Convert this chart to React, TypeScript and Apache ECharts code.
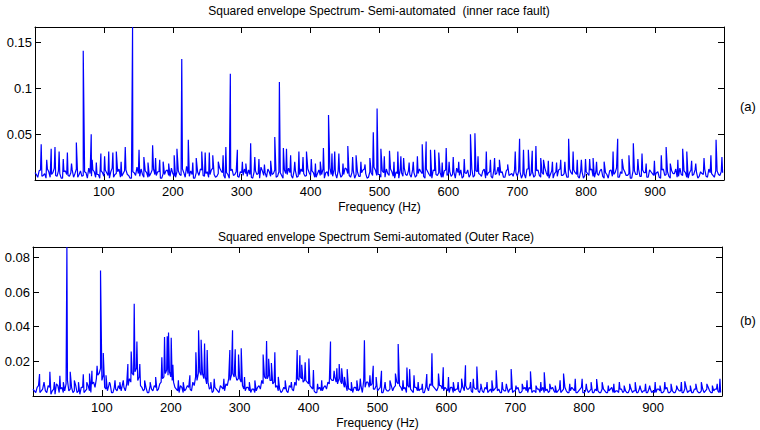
import React, { useEffect, useRef } from "react";
import * as echarts from "echarts";

// Frequency grid step (Hz) of the noise-floor arrays below;
// the "even" arrays sit at f = 0,4,8,...  and the "odd" arrays at f = 2,6,10,...
const BASE_STEP = 4;
const ODD_OFFSET = 2;

// (a) inner race: noise floor, thousandths, f = 0,4,...,996
const innerFloorEven = [
  8, 3, 11, 5, 2, 9, 6, 13, 4, 7, 2, 10, 5, 8, 3, 12, 6, 4, 9, 2, 7, 11, 3, 6, 10,
  4, 8, 2, 13, 6, 9, 3, 7, 11, 5, 2, 8, 14, 4, 6, 10, 3, 7, 12, 5, 9, 2, 6, 11, 4,
  7, 3, 10, 5, 8, 15, 4, 6, 2, 9, 12, 5, 7, 3, 11, 6, 4, 13, 8, 2, 6, 10, 5, 9, 3,
  8, 12, 4, 6, 2, 10, 7, 14, 5, 3, 9, 6, 11, 4, 8, 2, 7, 13, 5, 10, 3, 6, 9, 4, 12,
  5, 8, 3, 11, 6, 2, 9, 13, 4, 7, 10, 3, 6, 12, 5, 8, 2, 9, 4, 11, 7, 3, 8, 14, 5,
  6, 10, 3, 7, 12, 4, 9, 2, 8, 13, 5, 6, 11, 3, 7, 9, 4, 12, 6, 2, 10, 5, 8, 3, 11,
  7, 4, 9, 13, 5, 2, 8, 11, 6, 3, 10, 7, 4, 12, 5, 9, 2, 6, 14, 8, 3, 10, 5, 7, 11,
  4, 9, 6, 2, 12, 7, 3, 10, 5, 8, 13, 4, 6, 2, 9, 11, 5, 7, 3, 12, 6, 8, 4, 10, 2,
  9, 5, 12, 3, 7, 10, 4, 8, 2, 11, 6, 13, 3, 7, 9, 5, 2, 10, 6, 12, 4, 8, 3, 11, 7,
  5, 9, 2, 12, 6, 4, 10, 7, 3, 13, 5, 8, 2, 11, 6, 9, 4, 7, 12, 3, 8, 5, 10, 6, 9,
];
// (a) inner race: noise floor, thousandths, f = 2,6,...,998
const innerFloorOdd = [
  6, 10, 4, 7, 12, 3, 8, 5, 10, 2, 9, 6, 4, 11, 7, 3, 10, 5, 8, 13, 4, 9, 6, 2, 8,
  11, 5, 9, 3, 7, 12, 4, 10, 6, 2, 9, 5, 7, 12, 3, 8, 4, 11, 6, 9, 2, 7, 10, 5, 13,
  4, 9, 6, 12, 3, 7, 10, 2, 8, 5, 11, 4, 9, 6, 13, 3, 7, 10, 5, 8, 2, 12, 6, 4, 9,
  5, 7, 11, 3, 9, 6, 2, 10, 8, 12, 4, 7, 3, 9, 5, 11, 6, 8, 2, 10, 4, 12, 7, 5, 8,
  10, 3, 7, 5, 12, 8, 4, 6, 11, 2, 9, 5, 13, 7, 3, 10, 6, 4, 8, 12, 2, 9, 5, 11, 6,
  3, 8, 12, 5, 9, 2, 7, 11, 4, 6, 10, 3, 8, 5, 12, 7, 2, 9, 4, 11, 6, 8, 3, 10, 5,
  9, 6, 2, 8, 11, 4, 7, 3, 12, 5, 9, 6, 10, 2, 8, 4, 11, 7, 5, 9, 3, 12, 6, 4, 8,
  10, 2, 7, 12, 4, 9, 5, 11, 3, 6, 8, 2, 10, 7, 4, 12, 5, 9, 3, 8, 11, 6, 2, 9, 5,
  7, 11, 4, 9, 5, 12, 2, 6, 10, 4, 8, 3, 9, 12, 5, 7, 2, 10, 6, 4, 11, 8, 3, 9, 5,
  8, 3, 11, 5, 9, 2, 7, 12, 4, 6, 10, 3, 8, 5, 11, 2, 9, 6, 4, 12, 7, 3, 10, 5, 8,
];

// (a) inner race: spectral lines [Hz, thousandths]
const innerPeaks: [number, number][] = [
  [9, 39], [17, 22], [23.5, 34], [29, 36], [35, 31], [41, 23], [47, 30], [53, 18], [60, 41],
  [70, 141], [81.6, 50], [83, 22], [89, 19], [95.6, 29], [101, 26], [107, 31], [113, 30],
  [118, 31], [125, 20], [131, 36], [141.6, 167], [151, 33], [158, 25], [164, 19], [170.7, 38],
  [175, 24], [181, 22], [186, 20], [194, 18], [202, 27], [206, 34], [213, 132], [222.5, 44],
  [229, 19], [234, 24], [242, 31], [247, 30], [253, 30], [258, 27], [266, 20], [273, 27],
  [277, 36], [283.5, 116], [293.7, 33], [301, 20], [306, 18], [313, 40], [319, 25], [325, 23],
  [333, 17], [342, 21], [348, 47], [354.7, 107], [360.5, 35], [365, 34], [371, 27], [377, 20],
  [383, 31], [389, 25], [394, 31], [401, 23], [407, 18], [414, 20], [418.6, 35], [426, 71],
  [431, 29], [435, 31], [441, 29], [447, 18], [454, 37], [461, 25], [466, 27], [473, 20],
  [479, 17], [486, 24], [491, 52], [496.5, 78], [502, 34], [507, 26], [514.5, 32], [521, 20],
  [526.6, 31], [531, 26], [535, 24], [543, 19], [549, 20], [555, 26], [562, 39], [567.7, 42],
  [574, 33], [580, 33], [586, 30], [591, 19], [596.8, 35], [601, 20], [607, 25], [615, 20],
  [623, 23], [632, 50], [638.5, 51], [643, 26], [655, 31], [661, 22], [667, 24], [674, 22],
  [686, 17], [697, 31], [703.3, 45], [709, 33], [716, 33], [721.7, 32], [727, 37], [734, 24],
  [738, 22], [745, 21], [751, 20], [757, 19], [763, 22], [769, 20], [774.5, 45], [781, 31],
  [787, 22], [793, 22], [799, 23], [805, 23], [810, 24], [815, 20], [826, 20], [839, 31],
  [845.7, 45], [852, 23], [862, 27], [868.4, 40], [875, 23], [881, 29], [887, 18], [899, 21],
  [909, 27], [916, 36], [922, 18], [933, 22], [940, 34], [946, 31], [953, 21], [959, 18],
  [971, 24], [981, 27], [988.5, 44], [997, 25],
];

// (b) outer race: noise floor, thousandths, f = 0,4,...,996
const outerFloorEven = [
  4, 2, 6, 3, 8, 2, 5, 3, 1, 6, 4, 2, 7, 3, 5, 3, 2, 1, 5, 3, 6, 2, 8, 10, 13,
  9, 5, 3, 7, 2, 4, 6, 3, 5, 7, 10, 13, 14, 9, 6, 3, 5, 2, 4, 6, 3, 7, 10, 13, 12,
  11, 8, 4, 2, 5, 3, 6, 4, 8, 11, 13, 12, 10, 7, 4, 2, 5, 3, 6, 4, 7, 10, 12, 11, 9,
  10, 6, 3, 5, 2, 4, 3, 6, 9, 11, 10, 9, 7, 5, 3, 2, 5, 3, 6, 4, 8, 10, 11, 8, 9,
  7, 5, 3, 2, 5, 3, 6, 8, 10, 9, 8, 10, 7, 5, 3, 4, 2, 5, 3, 6, 9, 8, 5, 7, 4,
  3, 5, 2, 4, 3, 6, 5, 8, 6, 3, 5, 6, 4, 2, 5, 3, 4, 2, 5, 7, 6, 4, 5, 6, 3,
  4, 2, 5, 3, 4, 2, 5, 6, 4, 3, 5, 4, 2, 3, 5, 2, 4, 3, 5, 4, 2, 3, 5, 4, 2,
  3, 5, 2, 4, 3, 5, 2, 3, 4, 2, 5, 3, 2, 4, 3, 2, 4, 3, 5, 2, 3, 4, 2, 3, 5,
  2, 4, 3, 2, 4, 3, 2, 4, 2, 3, 5, 2, 3, 4, 2, 3, 2, 4, 3, 2, 4, 2, 3, 2, 4,
  3, 2, 4, 2, 3, 5, 2, 3, 2, 4, 3, 2, 5, 3, 2, 4, 3, 2, 4, 3, 5, 2, 3, 4, 2,
];
// (b) outer race: noise floor, thousandths, f = 2,6,...,998
const outerFloorOdd = [
  3, 5, 2, 4, 3, 6, 1, 4, 7, 2, 5, 3, 9, 4, 2, 6, 3, 5, 2, 4, 3, 7, 5, 12, 16,
  12, 4, 6, 2, 5, 3, 4, 7, 3, 6, 8, 12, 16, 11, 5, 4, 2, 6, 3, 5, 4, 8, 11, 15, 14,
  9, 5, 3, 6, 2, 4, 5, 3, 6, 9, 14, 13, 11, 8, 5, 3, 4, 2, 5, 3, 6, 9, 13, 12, 10,
  8, 4, 5, 3, 4, 2, 5, 4, 7, 10, 12, 9, 8, 6, 4, 3, 4, 2, 5, 3, 6, 9, 10, 9, 8,
  6, 4, 2, 4, 3, 5, 4, 7, 9, 11, 7, 9, 8, 6, 4, 3, 5, 3, 4, 2, 5, 8, 6, 4, 6,
  4, 2, 5, 3, 4, 3, 6, 7, 5, 4, 2, 5, 3, 5, 3, 4, 2, 5, 3, 6, 5, 3, 6, 4, 5,
  3, 5, 2, 4, 3, 5, 3, 4, 5, 2, 4, 3, 5, 2, 4, 3, 2, 4, 3, 2, 4, 3, 2, 4, 3,
  4, 2, 3, 5, 2, 4, 3, 2, 4, 3, 2, 4, 3, 5, 2, 3, 2, 4, 3, 2, 5, 3, 2, 4, 2,
  3, 2, 4, 2, 3, 2, 4, 3, 2, 4, 2, 3, 2, 4, 3, 2, 4, 2, 3, 2, 4, 3, 2, 4, 2,
  2, 4, 3, 2, 4, 2, 3, 2, 4, 3, 2, 4, 2, 3, 2, 4, 2, 3, 2, 4, 3, 2, 4, 3, 2,
];

// (b) outer race: spectral lines [Hz, thousandths]
const outerPeaks: [number, number][] = [
  [9.5, 12.7], [16, 8], [24.5, 14], [31, 8], [39, 11.7], [44, 8], [49.2, 86], [54, 14], [60, 9],
  [66, 8], [73, 12.5], [78, 8], [82, 13], [85.5, 14.5], [93, 17.5], [98, 72.5], [102, 24.8],
  [106, 12], [111, 8], [119, 9], [126, 8], [131, 9], [137.7, 18.4], [142.5, 25.7], [146.9, 53.3],
  [150.8, 31.5], [155, 18.5], [162, 9], [170, 8], [178, 11], [187, 22.3], [190.9, 34.1],
  [194.8, 34.5], [196.7, 36.7], [200.6, 33.6], [203, 18], [211, 9], [218, 8], [227.7, 12],
  [236.4, 25.2], [240.3, 38], [244, 32.4], [249, 30.3], [252.8, 26.5], [258, 8], [263, 10],
  [277, 10], [285.7, 26.5], [289.6, 38], [293.5, 27], [298.3, 24], [302.2, 27.5], [307, 11],
  [314, 8], [322, 9], [334, 24], [339, 31.8], [342, 21.5], [346, 19], [351, 25.2], [356, 11],
  [366, 9], [375, 8], [383.4, 26.5], [387.3, 23.5], [390, 18], [395, 19.5], [400.4, 21.6],
  [407, 15], [413, 7], [419, 9], [431.8, 31.5], [437, 14.5], [441, 16], [444.4, 18.5],
  [448, 16], [452, 11], [456, 15.5], [462, 8], [470, 9], [475, 10], [481, 32.2], [485, 8],
  [489, 12], [493.8, 17.5], [498, 11], [505.8, 14.5], [511, 8], [518, 9], [526, 13], [530, 30],
  [537, 9], [542.7, 16.5], [546.6, 15.5], [553, 12], [559, 8], [565, 7], [571.5, 12.7],
  [579, 24.6], [588.5, 13], [595.4, 16.6], [603, 11], [610, 8], [617, 8], [622, 10],
  [627.7, 17.8], [635, 8], [639, 10], [644.2, 17], [650, 7], [659, 8], [666, 9], [672.3, 14.8],
  [681, 8], [687, 7], [694, 15.6], [701, 6], [710, 7], [717, 9], [722, 14.2], [730, 6],
  [737, 8], [742, 13.7], [750, 7], [758, 6], [765, 9], [770, 13], [779, 7], [787, 10],
  [797, 10], [803, 7], [810, 8], [818, 9.8], [826, 8], [835, 6], [843, 7], [851, 8], [858, 6],
  [866, 7], [874, 8], [881, 6], [889, 7], [895, 6], [903, 8], [910, 6], [917, 8], [926, 7],
  [934, 6], [941, 8], [946, 8.5], [954, 6], [962, 7], [970, 8], [978, 7], [986, 6], [993, 7],
  [997, 10],
];

const X_TICKS = [100, 200, 300, 400, 500, 600, 700, 800, 900];
const TITLE_A = "Squared envelope Spectrum- Semi-automated  (inner race fault)";
const TITLE_B = "Squared envelope Spectrum Semi-automated (Outer Race)";
const X_NAME = "Frequency (Hz)";

const FONT = "'Liberation Sans', Arial, Helvetica, sans-serif";

function buildSeries(even: number[], odd: number[], peaks: [number, number][]) {
  const pts: [number, number][] = [];
  even.forEach((v, i) => pts.push([i * BASE_STEP, v / 1000]));
  odd.forEach((v, i) => pts.push([i * BASE_STEP + ODD_OFFSET, v / 1000]));
  peaks.forEach(([f, v]) => pts.push([f, v / 1000]));
  pts.sort((a, b) => a[0] - b[0]);
  return pts;
}

export default function App() {
  const ref = useRef<HTMLDivElement>(null);
  useEffect(() => {
    if (!ref.current) return;
    const chart = echarts.init(ref.current, undefined, { renderer: "svg" });

    const tick = { inside: true, length: 6, lineStyle: { color: "#000", width: 1 } };
    const line = { show: true, onZero: false, lineStyle: { color: "#000", width: 1 } };
    const label = { color: "#000", fontSize: 13, fontFamily: FONT };

    const xBottom = (gridIndex: number) => ({
      type: "value",
      gridIndex,
      min: 0,
      max: 1000,
      interval: 100,
      position: "bottom",
      axisLine: line,
      axisTick: tick,
      splitLine: { show: false },
      axisLabel: {
        ...label,
        margin: 5,
        formatter: (v: number) => (X_TICKS.includes(v) ? String(v) : ""),
      },
      name: X_NAME,
      nameLocation: "middle",
      nameGap: 21,
      nameTextStyle: { color: "#000", fontSize: 12, fontFamily: FONT },
    });
    const xTop = (gridIndex: number) => ({
      type: "value",
      gridIndex,
      min: 0,
      max: 1000,
      interval: 100,
      position: "top",
      axisLine: line,
      axisTick: tick,
      splitLine: { show: false },
      axisLabel: { show: false },
    });
    const yLeft = (gridIndex: number, max: number, interval: number, labels: string[]) => ({
      type: "value",
      gridIndex,
      min: 0,
      max,
      interval,
      position: "left",
      axisLine: line,
      axisTick: tick,
      splitLine: { show: false },
      axisLabel: {
        ...label,
        margin: 3,
        formatter: (v: number) => {
          const s = String(Math.round(v * 1000) / 1000);
          return labels.includes(s) ? s : "";
        },
      },
    });
    const yRight = (gridIndex: number, max: number, interval: number) => ({
      type: "value",
      gridIndex,
      min: 0,
      max,
      interval,
      position: "right",
      axisLine: line,
      axisTick: tick,
      splitLine: { show: false },
      axisLabel: { show: false },
    });

    const seriesStyle = {
      type: "line",
      showSymbol: false,
      symbol: "none",
      lineStyle: { color: "#0000ff", width: 1.2 },
      itemStyle: { color: "#0000ff" },
      clip: true,
    };

    chart.setOption({
      animation: false,
      backgroundColor: "#fff",
      grid: [
        { left: 35, top: 27, width: 689, height: 153 },
        { left: 33, top: 247, width: 689, height: 149 },
      ],
      xAxis: [xBottom(0), xTop(0), xBottom(1), xTop(1)],
      yAxis: [
        yLeft(0, 0.167, 0.05, ["0.05", "0.1", "0.15"]),
        yRight(0, 0.167, 0.05),
        yLeft(1, 0.086, 0.02, ["0.02", "0.04", "0.06", "0.08"]),
        yRight(1, 0.086, 0.02),
      ],
      series: [
        {
          ...seriesStyle,
          xAxisIndex: 0,
          yAxisIndex: 0,
          data: buildSeries(innerFloorEven, innerFloorOdd, innerPeaks),
        },
        {
          ...seriesStyle,
          xAxisIndex: 2,
          yAxisIndex: 2,
          data: buildSeries(outerFloorEven, outerFloorOdd, outerPeaks),
        },
      ],
      graphic: [
        {
          type: "text",
          x: 379,
          y: 11,
          style: { text: TITLE_A, fill: "#000", fontSize: 12, fontFamily: FONT, align: "center", verticalAlign: "middle" },
        },
        {
          type: "text",
          x: 376,
          y: 237,
          style: { text: TITLE_B, fill: "#000", fontSize: 12, fontFamily: FONT, align: "center", verticalAlign: "middle" },
        },
        {
          type: "text",
          x: 740,
          y: 106,
          style: { text: "(a)", fill: "#000", fontSize: 13, fontFamily: FONT, align: "left", verticalAlign: "middle" },
        },
        {
          type: "text",
          x: 740,
          y: 320,
          style: { text: "(b)", fill: "#000", fontSize: 13, fontFamily: FONT, align: "left", verticalAlign: "middle" },
        },
      ],
    });
    return () => chart.dispose();
  }, []);
  return (
    <div
      ref={ref}
      style={{ position: "fixed", left: 0, top: 0, width: 760, height: 430, background: "#fff" }}
    />
  );
}
